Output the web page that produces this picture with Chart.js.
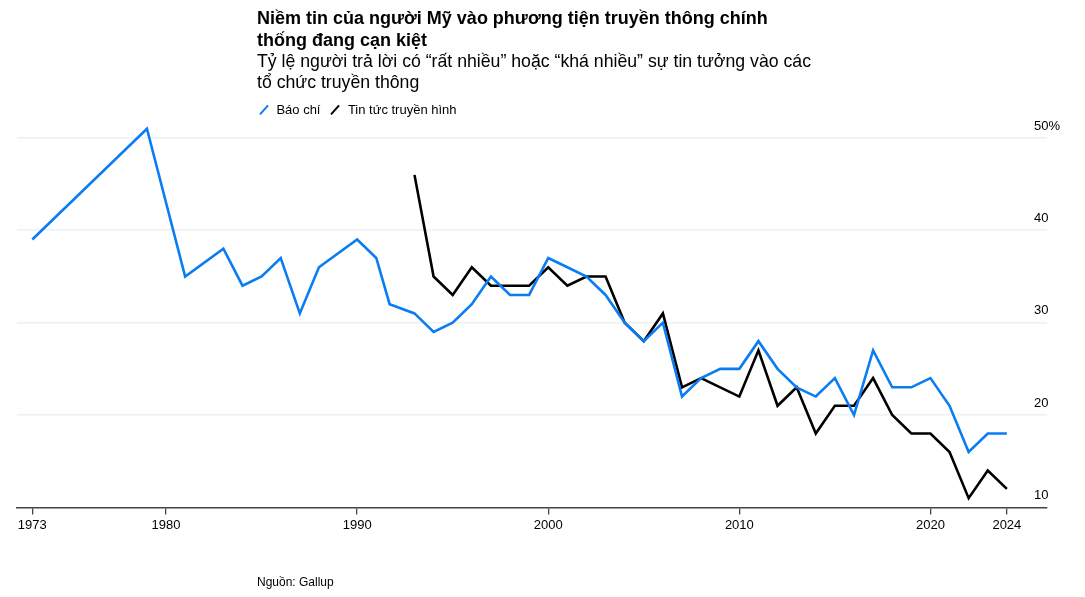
<!DOCTYPE html>
<html>
<head>
<meta charset="utf-8">
<script src="https://cdn.jsdelivr.net/npm/chart.js@4"></script>
<style>
  body { margin: 0; background: #fff; font-family: "Liberation Sans", Arial, sans-serif; }
  #wrap { position: relative; width: 1085px; height: 597px; }
  #chart { position: absolute; left: 0; top: 0; }
  .txt { position: absolute; left: 257px; color: #000; white-space: nowrap; }
  #title { top: 7px; font-weight: bold; font-size: 18px; line-height: 22px; }
  #subtitle { top: 51px; font-size: 17.7px; line-height: 21px; }
  #legend { top: 101px; font-size: 13px; line-height: 18px; }
  #legend span.item { margin-right: 8px; }
  #legend i { display: inline-block; width: 2.4px; height: 12px; transform: rotate(42deg); margin: 0 11px 0 6px; vertical-align: -2px; }
  #source { top: 575px; font-size: 12px; }
</style>
</head>
<body>
<div id="wrap">
  <canvas id="chart" width="1085" height="597"></canvas>
  <div id="title" class="txt">Niềm tin của người Mỹ vào phương tiện truyền thông chính<br>thống đang cạn kiệt</div>
  <div id="subtitle" class="txt">Tỷ lệ người trả lời có “rất nhiều” hoặc “khá nhiều” sự tin tưởng vào các<br>tổ chức truyền thông</div>
  <div id="legend" class="txt"><span class="item"><i style="background:#0a7df2"></i>Báo chí</span><span class="item"><i style="background:#000"></i>Tin tức truyền hình</span></div>
  <div id="source" class="txt">Nguồn: Gallup</div>
</div>
<script>
// Gallup: confidence in newspapers / television news (%)
const paperYears = [1973, 1979, 1981, 1983, 1984, 1985, 1986, 1987, 1988, 1990, 1991, 1991.7, 1993, 1994, 1995, 1996, 1997, 1998, 1999, 2000,
  2001, 2002, 2003, 2004, 2005, 2006, 2007, 2008, 2009, 2010, 2011, 2012, 2013, 2014, 2015, 2016, 2017, 2018, 2019, 2020, 2021, 2022, 2023, 2024];
const paperValues = [39, 51, 35, 38, 34, 35, 37, 31, 36, 39, 37, 32, 31, 29, 30, 32, 35, 33, 33, 37,
  36, 35, 33, 30, 28, 30, 22, 24, 25, 25, 28, 25, 23, 22, 24, 20, 27, 23, 23, 24, 21, 16, 18, 18];
const tvYears = [1993, 1994, 1995, 1996, 1997, 1998, 1999, 2000, 2001, 2002, 2003, 2004, 2005, 2006, 2007, 2008, 2009, 2010,
  2011, 2012, 2013, 2014, 2015, 2016, 2017, 2018, 2019, 2020, 2021, 2022, 2023, 2024];
const tvValues = [46, 35, 33, 36, 34, 34, 34, 36, 34, 35, 35, 30, 28, 31, 23, 24, 23, 22,
  27, 21, 23, 18, 21, 21, 24, 20, 18, 18, 16, 11, 14, 12];
const xTicks = [1973, 1980, 1990, 2000, 2010, 2020, 2024];
const yTicks = [10, 20, 30, 40, 50];

const toPoints = (years, values) => years.map((year, i) => ({ x: year, y: values[i] }));

const canvasElement = document.getElementById("chart");
const ctx = canvasElement.getContext("2d");

new Chart(ctx, {
    type: "line",
    data: {
        datasets: [{
                label: "Báo chí",
                data: toPoints(paperYears, paperValues),
                borderColor: "#0a7df2",
                borderWidth: 2.6,
            }, {
                label: "Tin tức truyền hình",
                data: toPoints(tvYears, tvValues),
                borderColor: "#000000",
                borderWidth: 2.6,
            }],
    },
    options: {
        responsive: false,
        animation: false,
        layout: {
            padding: { left: 17, right: 12, top: 125, bottom: 61 },
        },
        elements: {
            point: { radius: 0 },
            line: { tension: 0, borderJoinStyle: "miter" },
        },
        scales: {
            x: {
                type: "linear",
                min: 1972.2,
                max: 2026.1,
                afterBuildTicks: (scale) => {
                    scale.ticks = xTicks.map((value) => ({ value }));
                },
                ticks: {
                    color: "#000",
                    padding: 3,
                    maxRotation: 0,
                    autoSkip: false,
                    font: { family: "Liberation Sans", size: 13 },
                    callback: (value) => String(value),
                },
                grid: {
                    drawOnChartArea: false,
                    drawTicks: true,
                    tickLength: 7,
                    color: "#444",
                    lineWidth: 1.3,
                },
                border: { display: true, color: "#444", width: 1.5 },
            },
            y: {
                position: "right",
                min: 10,
                max: 51.4,
                afterBuildTicks: (scale) => {
                    scale.ticks = yTicks.map((value) => ({ value }));
                },
                ticks: {
                    mirror: true,
                    crossAlign: "far",
                    color: "#000",
                    padding: 13,
                    labelOffset: -12,
                    font: { family: "Liberation Sans", size: 13 },
                    callback: (value) => (value === 50 ? "50%" : String(value)),
                },
                grid: {
                    drawTicks: false,
                    color: (c) => (c.tick && c.tick.value === 10 ? "rgba(0,0,0,0)" : "#eef1f1"),
                    lineWidth: 1.6,
                },
                border: { display: false },
            },
        },
        plugins: {
            legend: { display: false },
            title: { display: false },
            tooltip: { enabled: false },
        },
    },
});
</script>
</body>
</html>
